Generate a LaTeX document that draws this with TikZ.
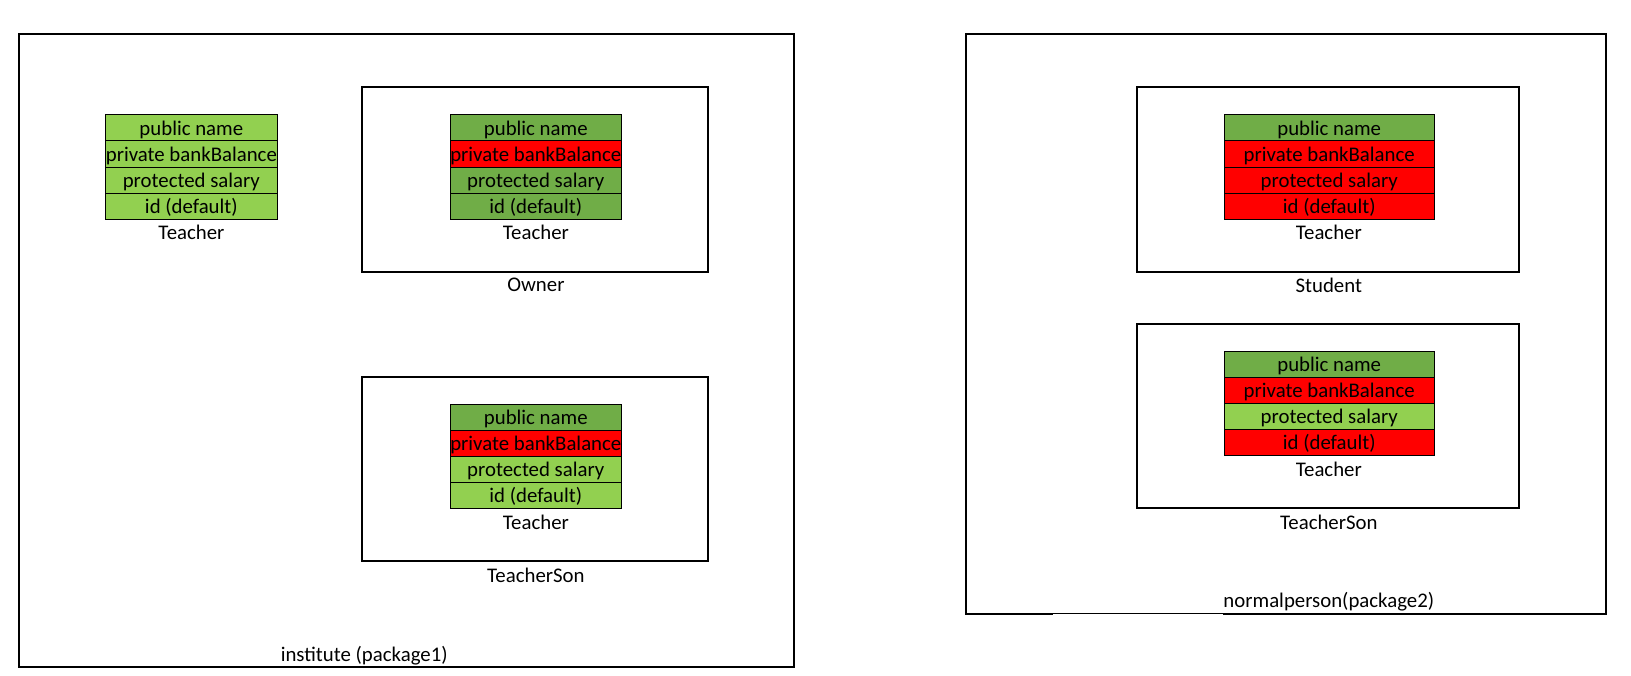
\documentclass[tikz,border=0pt]{standalone}
\usepackage{fontspec}
\setmainfont{Carlito}
\definecolor{lg}{HTML}{92D050}
\definecolor{dg}{HTML}{70AD47}
\definecolor{rd}{HTML}{FF0000}
\begin{document}
\begin{tikzpicture}[x=1pt,y=-1pt,scale=1.0406,every node/.style={transform shape},
  pkg/.style={draw, line width=2pt},
  cell/.style={draw, line width=0.8pt, minimum height=25pt, inner sep=0pt, text height=14.5pt, text depth=0pt, anchor=north west, font=\fontsize{20}{23}\selectfont},
  lbl/.style={font=\fontsize{20}{23}\selectfont, inner sep=0pt}]
\useasboundingbox[fill=white] (0,0) rectangle (1567.4,648.7);

% packages
\draw[pkg] (18,33) rectangle (763,641);
\node[lbl] (p1) at (350,630) {institute (package1)};
\draw[pkg] (928,33) rectangle (1543,590);
\fill[white] (1012,590.2) rectangle (1175,591.3);
\node[lbl] (p2) at (1277,578) {normalperson(package2)};

% inner boxes
\draw[pkg] (348,84) rectangle (680,261);
\node[lbl] (owner) at (515,274) {Owner};
\draw[pkg] (348,362) rectangle (680,539);
\node[lbl] (ts1) at (515,553) {TeacherSon};
\draw[pkg] (1093,84) rectangle (1460,261);
\node[lbl] (student) at (1277,274) {Student};
\draw[pkg] (1093,311) rectangle (1460,488);
\node[lbl] (ts2) at (1277,502) {TeacherSon};

\begin{scope}[every node/.append style={minimum width=165pt}]
\node[cell, fill=lg] (a1) at (101,110) {public name};
\node[cell, fill=lg] (a2) at (101,135) {private bankBalance};
\node[cell, fill=lg] (a3) at (101,160) {protected salary};
\node[cell, fill=lg] (a4) at (101,185) {id (default)};
\node[lbl] (at) at (184,223) {Teacher};

\node[cell, fill=dg] (b1) at (432,110) {public name};
\node[cell, fill=rd] (b2) at (432,135) {private bankBalance};
\node[cell, fill=dg] (b3) at (432,160) {protected salary};
\node[cell, fill=dg] (b4) at (432,185) {id (default)};
\node[lbl] (bt) at (515,223) {Teacher};

\node[cell, fill=dg] (c1) at (432,388) {public name};
\node[cell, fill=rd] (c2) at (432,413) {private bankBalance};
\node[cell, fill=lg] (c3) at (432,438) {protected salary};
\node[cell, fill=lg] (c4) at (432,463) {id (default)};
\node[lbl] (ct) at (515,502) {Teacher};
\end{scope}

\begin{scope}[every node/.append style={minimum width=202pt}]
\node[cell, fill=dg] (d1) at (1176,110) {public name};
\node[cell, fill=rd] (d2) at (1176,135) {private bankBalance};
\node[cell, fill=rd] (d3) at (1176,160) {protected salary};
\node[cell, fill=rd] (d4) at (1176,185) {id (default)};
\node[lbl] (dt) at (1277,223) {Teacher};

\node[cell, fill=dg] (e1) at (1176,337) {public name};
\node[cell, fill=rd] (e2) at (1176,362) {private bankBalance};
\node[cell, fill=lg] (e3) at (1176,387) {protected salary};
\node[cell, fill=rd] (e4) at (1176,412) {id (default)};
\node[lbl] (et) at (1277,451) {Teacher};
\end{scope}
\end{tikzpicture}
\end{document}
